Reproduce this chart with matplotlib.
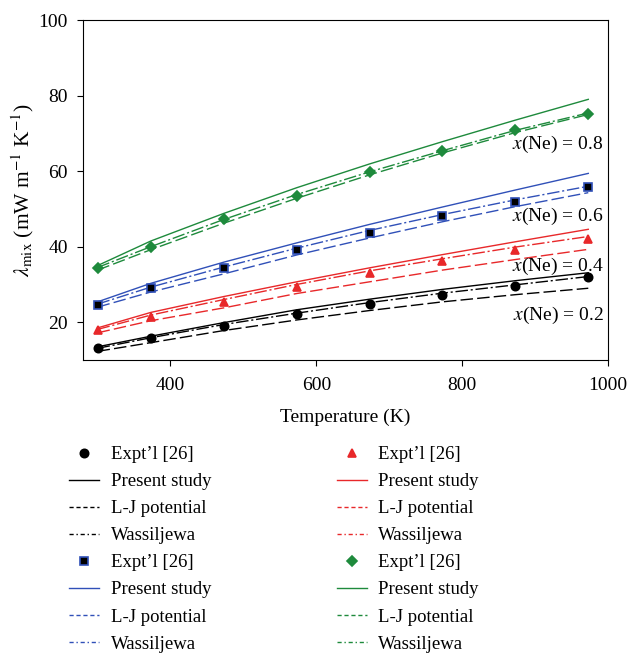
import numpy as np
import matplotlib
matplotlib.use("Agg")
import matplotlib.pyplot as plt
from matplotlib.lines import Line2D

plt.rcParams['font.family'] = ['Liberation Serif', 'DejaVu Serif']
plt.rcParams['mathtext.fontset'] = 'stix'

# temperatures (K)
temp = [300, 373, 473, 573, 673, 773, 873, 973]

# x(Ne) = 0.2  (black)
exp_02 = [13.3, 15.9, 19.1, 22.1, 24.7, 27.3, 29.7, 31.9]
ps_02 = [13.5, 16.3, 19.9, 23.3, 26.1, 28.7, 31.0, 33.1]
lj_02 = [12.3, 14.6, 17.8, 20.6, 23.1, 25.4, 27.3, 29.0]
wa_02 = [13.1, 15.9, 19.4, 22.4, 25.2, 27.7, 29.9, 32.1]

# x(Ne) = 0.4  (red)
exp_04 = [18.0, 21.5, 25.4, 29.4, 33.0, 36.2, 39.1, 42.1]
ps_04 = [18.5, 22.6, 26.8, 30.7, 34.4, 37.9, 41.3, 44.6]
lj_04 = [17.2, 20.4, 23.8, 27.6, 30.7, 33.8, 36.6, 39.3]
wa_04 = [18.1, 21.9, 26.0, 30.0, 33.6, 36.8, 39.9, 42.7]

# x(Ne) = 0.6  (blue)
exp_06 = [24.6, 29.0, 34.3, 39.1, 43.7, 48.0, 51.9, 55.7]
ps_06 = [25.4, 30.3, 35.9, 41.0, 45.9, 50.5, 55.0, 59.4]
lj_06 = [24.0, 28.0, 32.8, 37.8, 42.3, 46.6, 50.6, 54.3]
wa_06 = [24.8, 29.3, 34.6, 39.6, 44.3, 48.5, 52.4, 56.0]

# x(Ne) = 0.8  (green)
exp_08 = [34.3, 40.0, 47.3, 53.5, 59.7, 65.4, 70.9, 75.1]
ps_08 = [35.0, 41.5, 48.8, 55.6, 61.9, 67.8, 73.5, 79.0]
lj_08 = [33.8, 39.2, 46.2, 52.8, 59.0, 64.8, 70.2, 75.0]
wa_08 = [34.5, 40.0, 47.2, 53.8, 59.8, 65.4, 70.8, 75.4]

labels = ["$x$(Ne) = 0.2", "$x$(Ne) = 0.4", "$x$(Ne) = 0.6", "$x$(Ne) = 0.8"]
label_y = [21.7, 34.9, 48.1, 67.0]

fig = plt.figure(figsize=(6.31, 6.54), dpi=100)
ax = fig.add_axes([0.1315, 0.4495, 0.832, 0.5199])

sets = [
    (exp_02, ps_02, lj_02, wa_02, 'black', 'o', 'black', 'black'),
    (exp_06, ps_06, lj_06, wa_06, '#3050b8', 's', 'black', '#3050b8'),
    (exp_04, ps_04, lj_04, wa_04, '#e8282a', '^', '#e8282a', '#e8282a'),
    (exp_08, ps_08, lj_08, wa_08, '#1e8a3c', 'D', '#1e8a3c', '#1e8a3c'),
]

handles = []
for e, p, l, w, c, m, mfc, mec in sets:
    ax.plot(temp, p, color=c, lw=1.0, ls='-')
    ax.plot(temp, l, color=c, lw=1.0, dashes=(9, 3))
    ax.plot(temp, w, color=c, lw=1.0, dashes=(9, 2, 1.5, 2))
    ms = 6 if m != 'D' else 5.5
    ax.plot(temp, e, ls='none', marker=m, ms=ms, mfc=mfc, mec=mec, mew=1.2)
    handles += [
        Line2D([], [], ls='none', marker=m, ms=ms, mfc=mfc, mec=mec, mew=1.2),
        Line2D([], [], color=c, lw=1.0, ls='-'),
        Line2D([], [], color=c, lw=1.0, dashes=(3, 2)),
        Line2D([], [], color=c, lw=1.0, dashes=(3, 2, 1, 2)),
    ]

for txt, yv in zip(labels, label_y):
    ax.text(994, yv, txt, ha='right', va='center', fontsize=14)

ax.set_xlim(280, 1000)
ax.set_ylim(10, 100)
ax.set_xticks([400, 600, 800, 1000])
ax.set_yticks([20, 40, 60, 80, 100])
ax.tick_params(labelsize=14, direction='out', length=4, pad=8)
ax.tick_params(axis='y', pad=7)
ax.set_xlabel("Temperature (K)", fontsize=14, labelpad=11)
ax.set_ylabel(r"$\lambda_{\rm mix}$ (mW m$^{-1}$ K$^{-1}$)", fontsize=15.5, labelpad=2)

names = ["Expt\u2019l [26]", "Present study", "L-J potential", "Wassiljewa"] * 4
fig.legend(handles, names, loc='upper left', bbox_to_anchor=(0.110, 0.318),
           ncol=2, frameon=False, fontsize=13.5, handlelength=1.6,
           handletextpad=0.6, columnspacing=6.7, labelspacing=0.53,
           borderpad=0, borderaxespad=0)

fig.savefig("out.png", dpi=100)
